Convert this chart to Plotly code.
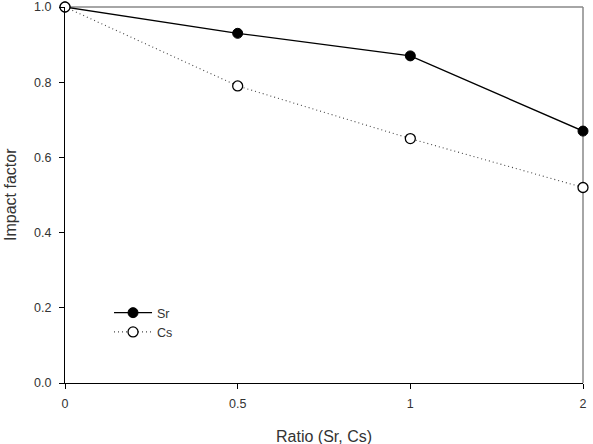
import plotly.graph_objects as go

ratios = ["0", "0.5", "1", "2"]
sr = [1.0, 0.93, 0.87, 0.67]
cs = [1.0, 0.79, 0.65, 0.52]
yticks = [0.0, 0.2, 0.4, 0.6, 0.8, 1.0]

xpos = list(range(len(ratios)))
FONT = "Liberation Sans, Arial, sans-serif"

fig = go.Figure()
fig.add_trace(go.Scatter(
    x=xpos, y=sr, name="Sr", mode="lines+markers",
    line=dict(color="black", width=1.3),
    marker=dict(symbol="circle", size=10, color="black", line=dict(color="black", width=1)),
    cliponaxis=False))
fig.add_trace(go.Scatter(
    x=xpos, y=cs, name="Cs", mode="lines+markers",
    line=dict(color="#444444", width=1.1, dash="1px,3px"),
    marker=dict(symbol="circle", size=10, color="white", line=dict(color="black", width=1.3)),
    cliponaxis=False))

axis_font = dict(family=FONT, size=12.5, color="#333333")
title_font = dict(family=FONT, size=16, color="#333333")

fig.update_layout(
    width=593, height=444,
    margin=dict(l=65, r=10, t=7, b=61),
    plot_bgcolor="white", paper_bgcolor="white",
    showlegend=True,
    legend=dict(x=0.085, y=0.226, xanchor="left", yanchor="top",
                bgcolor="rgba(0,0,0,0)", font=axis_font,
                tracegroupgap=0, itemwidth=38),
    xaxis=dict(range=[0, 3], tickvals=xpos, ticktext=ratios, automargin=False,
               showgrid=False, zeroline=False, showline=True, linecolor="black", linewidth=1.3,
               ticks="outside", ticklen=5, tickcolor="black", tickfont=axis_font,
               ticklabelstandoff=4),
    yaxis=dict(range=[0, 1.0], tickvals=yticks, ticktext=[f"{v:.1f}" for v in yticks], automargin=False,
               showgrid=False, zeroline=False, showline=True, linecolor="black", linewidth=1.3,
               ticks="outside", ticklen=5, tickcolor="black", tickfont=axis_font,
               ticklabelstandoff=5),
    annotations=[
        dict(text="Ratio (Sr, Cs)", xref="paper", yref="paper", x=0.5, y=-53/376,
             xanchor="center", yanchor="middle", showarrow=False, font=title_font),
        dict(text="Impact factor", xref="paper", yref="paper", x=-55/518, y=0.5,
             xanchor="center", yanchor="middle", showarrow=False, font=title_font, textangle=-90),
    ],
)
fig.add_shape(type="line", xref="paper", yref="paper", x0=0, x1=1, y0=1, y1=1,
              line=dict(color="#888888", width=1.5), layer="below")
fig.add_shape(type="line", xref="paper", yref="paper", x0=1, x1=1, y0=0, y1=1,
              line=dict(color="#888888", width=1.5), layer="below")

fig.write_html("out.html")
